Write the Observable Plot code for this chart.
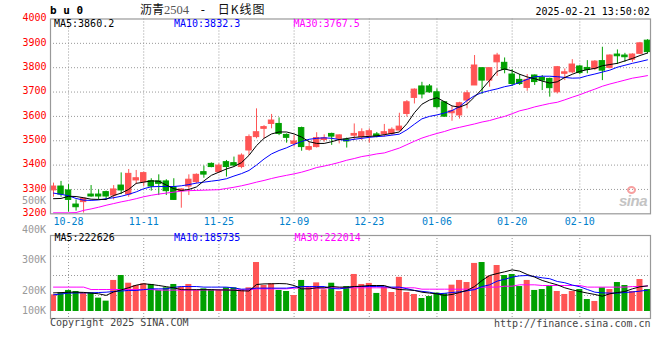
<!DOCTYPE html>
<html><head><meta charset="utf-8">
<script src="https://cdn.jsdelivr.net/npm/d3@7"></script>
<script src="https://cdn.jsdelivr.net/npm/@observablehq/plot@0.6"></script>
<style>
body{margin:0;background:#fff;}
#wrap{position:relative;width:660px;height:360px;overflow:hidden;font-family:"DejaVu Sans Mono",monospace;font-size:10px;}
.t{position:absolute;white-space:nowrap;line-height:1;}
.plot{position:absolute;left:0;}
</style></head><body><div id="wrap"></div>
<script>
const dates = ["2024-10-24","2024-10-25","2024-10-28","2024-10-29","2024-10-30","2024-10-31","2024-11-01","2024-11-04","2024-11-05","2024-11-06",
"2024-11-07","2024-11-08","2024-11-11","2024-11-12","2024-11-13","2024-11-14","2024-11-15","2024-11-18","2024-11-19","2024-11-20",
"2024-11-21","2024-11-22","2024-11-25","2024-11-26","2024-11-27","2024-11-28","2024-11-29","2024-12-02","2024-12-03","2024-12-04",
"2024-12-05","2024-12-06","2024-12-09","2024-12-10","2024-12-11","2024-12-12","2024-12-13","2024-12-16","2024-12-17","2024-12-18",
"2024-12-19","2024-12-20","2024-12-23","2024-12-24","2024-12-25","2024-12-26","2024-12-27","2024-12-30","2024-12-31","2025-01-02",
"2025-01-03","2025-01-06","2025-01-07","2025-01-08","2025-01-09","2025-01-10","2025-01-13","2025-01-14","2025-01-15","2025-01-16",
"2025-01-17","2025-01-20","2025-01-21","2025-01-22","2025-01-23","2025-01-24","2025-01-27","2025-02-05","2025-02-06","2025-02-07",
"2025-02-10","2025-02-11","2025-02-12","2025-02-13","2025-02-14","2025-02-17","2025-02-18","2025-02-19","2025-02-20","2025-02-21"];

const open = [3296,3312,3296,3238,3248,3279,3279,3289,3275,3316,
3279,3337,3330,3334,3333,3333,3309,3293,3312,3330,
3371,3405,3371,3412,3408,3392,3460,3515,3549,3569,
3569,3524,3487,3552,3463,3474,3503,3528,3508,3504,
3521,3515,3521,3526,3526,3528,3542,3610,3676,3723,
3723,3699,3658,3613,3604,3665,3727,3798,3747,3822,
3820,3772,3750,3717,3768,3758,3754,3699,3775,3781,
3805,3799,3795,3827,3799,3854,3850,3833,3857,3911];
const high = [3326,3333,3320,3257,3265,3316,3298,3293,3316,3368,
3382,3378,3371,3344,3360,3340,3344,3303,3360,3364,
3396,3409,3405,3419,3433,3446,3524,3631,3562,3608,
3594,3528,3521,3556,3494,3533,3524,3531,3524,3511,
3569,3549,3549,3534,3567,3553,3613,3665,3713,3740,
3731,3713,3661,3640,3658,3706,3850,3798,3798,3859,
3840,3792,3772,3772,3770,3768,3757,3805,3795,3833,
3809,3829,3829,3884,3853,3873,3859,3857,3904,3915];
const low = [3268,3268,3207,3211,3203,3268,3257,3257,3257,3279,
3268,3320,3312,3293,3275,3275,3255,3223,3275,3323,
3346,3389,3367,3351,3394,3385,3439,3508,3508,3549,
3521,3490,3474,3457,3457,3470,3494,3481,3487,3470,
3501,3501,3490,3512,3515,3521,3539,3597,3651,3672,
3695,3631,3597,3580,3589,3631,3727,3690,3720,3764,
3775,3723,3727,3703,3727,3706,3679,3692,3747,3775,
3771,3775,3788,3747,3795,3813,3822,3822,3854,3857];
const close = [3312,3279,3257,3227,3262,3271,3271,3271,3300,3296,
3364,3346,3367,3312,3323,3293,3257,3300,3340,3360,
3361,3392,3398,3392,3398,3439,3515,3535,3556,3583,
3528,3512,3497,3474,3474,3511,3510,3517,3522,3497,
3528,3535,3539,3517,3535,3545,3558,3658,3710,3690,
3699,3638,3599,3621,3654,3695,3809,3747,3798,3850,
3791,3733,3733,3750,3741,3747,3716,3802,3781,3813,
3778,3791,3825,3788,3850,3847,3843,3854,3900,3864];

const ma5 = [3262,3263,3272,3271,3266,3260,3259,3259,3275,3285,
3300,3325,3330,3335,3334,3318,3303,3296,3300,3310,
3335,3358,3371,3384,3394,3410,3440,3480,3510,3528,
3536,3536,3528,3515,3496,3489,3489,3496,3505,3509,
3514,3516,3518,3520,3525,3530,3536,3570,3615,3650,
3667,3677,3660,3643,3638,3650,3680,3712,3748,3785,
3795,3787,3773,3762,3755,3745,3737,3742,3760,3773,
3785,3792,3797,3808,3813,3818,3828,3838,3850,3860.2];
const ma10 = [3285,3280,3274,3263,3256,3255,3257,3262,3266,3272,
3280,3290,3303,3311,3312,3312,3312,3315,3320,3326,
3330,3334,3338,3344,3355,3365,3378,3400,3425,3446,
3460,3471,3485,3497,3506,3510,3512,3510,3505,3501,
3506,3510,3514,3517,3519,3523,3527,3545,3568,3590,
3600,3606,3614,3624,3640,3665,3685,3698,3706,3713,
3722,3728,3740,3752,3763,3765,3765,3763,3760,3757,
3758,3767,3774,3782,3790,3802,3810,3818,3825,3832.3];
const ma30 = [3204,3204,3204,3205,3214,3220,3227,3235,3242,3249,
3255,3262,3270,3276,3281,3285,3289,3293,3295,3296,
3297,3298,3299,3304,3309,3315,3322,3330,3337,3345,
3352,3358,3364,3371,3380,3390,3396,3403,3411,3420,
3427,3435,3440,3446,3450,3460,3470,3484,3498,3511,
3521,3530,3538,3548,3555,3562,3569,3577,3583,3592,
3600,3611,3623,3630,3639,3646,3653,3658,3668,3679,
3689,3701,3712,3724,3733,3741,3749,3757,3762,3767.5];

const volume = [145000,162000,183000,174000,160000,162000,116000,90000,270000,313000,
246000,226000,241000,235000,183000,206000,235000,212000,235000,183000,
197000,189000,183000,206000,206000,189000,206000,426000,226000,241000,
183000,174000,139000,270000,212000,249000,189000,246000,174000,217000,
322000,235000,244000,157000,212000,165000,297000,165000,148000,113000,
130000,160000,154000,229000,270000,252000,418000,426000,307000,400000,
313000,322000,217000,270000,183000,191000,217000,174000,148000,174000,
191000,104000,87000,206000,191000,252000,226000,174000,278000,191000];
const vma5 = [162000,164000,168000,168000,166000,160000,154000,140000,170000,188000,
207000,229000,241000,235000,226000,216000,206000,190000,189000,190000,
190000,190000,188000,187000,185000,180000,178000,235000,240000,241000,
243000,241000,226000,197000,197000,206000,206000,217000,212000,212000,
217000,220000,226000,226000,226000,203000,191000,188000,183000,168000,
160000,154000,140000,148000,165000,183000,217000,270000,313000,330000,
345000,362000,351000,322000,299000,270000,250000,232000,206000,188000,
174000,160000,148000,133000,154000,165000,174000,197000,215000,222626];
const vma10 = [145000,152000,160000,161000,162000,162000,165000,168000,174000,178000,
183000,183000,190000,197000,197000,197000,210000,217000,217000,217000,
212000,212000,212000,212000,205000,194000,196000,203000,203000,203000,
203000,203000,210000,217000,217000,217000,217000,200000,197000,205000,
217000,217000,217000,217000,215000,212000,212000,198000,183000,175000,
168000,154000,158000,165000,171000,180000,190000,217000,232000,264000,
280000,299000,310000,313000,304000,293000,285000,261000,250000,230000,
215000,191000,168000,162000,160000,160000,165000,170000,177000,185735];
const vma30 = [212000,212000,212000,212000,212000,191000,191000,191000,191000,191000,
191000,191000,191000,191000,186000,186000,186000,186000,186000,186000,
187000,187000,187000,187000,187000,187000,187000,197000,197000,197000,
197000,197000,203000,203000,203000,203000,203000,206000,206000,206000,
206000,206000,206000,206000,206000,206000,206000,206000,206000,194000,
194000,194000,194000,194000,194000,194000,194000,212000,212000,212000,
220000,220000,232000,232000,232000,226000,226000,226000,226000,226000,
226000,212000,212000,212000,212000,212000,212000,217000,217000,222014];

const tickDates = ["2024-10-28","2024-11-11","2024-11-25","2024-12-09","2024-12-23","2025-01-06","2025-01-20","2025-02-10"];
const tickLabels = ["10-28","11-11","11-25","12-09","12-23","01-06","01-20","02-10"];
const priceTicks = [3200,3300,3400,3500,3600,3700,3800,3900,4000];
const volAxisLabels = ["400K","300K","200K","100K"];
const strayLabel = "500K";
const symbol = "b u 0";
const titleName = "沥青", titleCode = "2504", titleKind = "日K线图";
const stamp = "2025-02-21 13:50:02";
const footLeft = "Copyright 2025 SINA.COM", footRight = "http://finance.sina.com.cn";

const UP = "#ff5555", DOWN = "#00a000";
const MONO = "DejaVu Sans Mono";
const rows = dates.map((d, i) => ({
  i, date: d, open: open[i], high: high[i], low: low[i], close: close[i],
  ma5: ma5[i], ma10: ma10[i], ma30: ma30[i],
  vol: volume[i], vma5: vma5[i], vma10: vma10[i], vma30: vma30[i],
  col: close[i] >= open[i] ? UP : DOWN
}));
const tickIdx = tickDates.map(d => dates.indexOf(d));
const xDom = [-0.4, dates.length - 1 + 0.4];
const grid = {stroke: "#999", strokeOpacity: 1, strokeDasharray: "1,2"};
const half = 0.36;
const LW = 1;

const wrap = document.getElementById("wrap");

const main = Plot.plot({
  width: 660, height: 232, marginLeft: 50, marginRight: 10, marginTop: 18.5, marginBottom: 18.7,
  style: {fontFamily: MONO, fontSize: "10px", background: "transparent", overflow: "visible"},
  x: {type: "linear", domain: xDom},
  y: {domain: [3200, 4000]},
  color: {type: "identity"},
  marks: [
    Plot.gridY(priceTicks.slice(1, -1), grid),
    Plot.gridX(tickIdx, grid),
    Plot.ruleX(rows, {x: "i", y1: "low", y2: "high", stroke: "col", strokeWidth: 1}),
    Plot.rect(rows, {x1: d => d.i - half, x2: d => d.i + half, y1: "open", y2: "close", fill: "col", stroke: "col", strokeWidth: 1}),
    Plot.line(rows, {x: "i", y: "ma30", stroke: "#ff00ff", strokeWidth: LW}),
    Plot.line(rows, {x: "i", y: "ma10", stroke: "#0000ff", strokeWidth: LW}),
    Plot.line(rows, {x: "i", y: "ma5", stroke: "#000000", strokeWidth: LW}),
    Plot.frame({stroke: "#999", strokeWidth: 1.2}),
    Plot.axisY(priceTicks, {anchor: "left", tickSize: 0, tickPadding: 4, fill: "#ff0000", label: null, dy: -1,
      tickFormat: d => String(d)}),
    Plot.axisX(tickIdx, {anchor: "bottom", tickSize: 0, tickPadding: 4, fill: "#0080cc", label: null,
      tickFormat: d => tickLabels[tickIdx.indexOf(d)]})
  ]
});
main.classList.add("plot"); main.style.top = "0px";
wrap.appendChild(main);

const vol = Plot.plot({
  width: 660, height: 100, marginLeft: 50, marginRight: 10, marginTop: 10, marginBottom: 7,
  style: {fontFamily: MONO, fontSize: "10px", background: "transparent", overflow: "visible"},
  x: {type: "linear", domain: xDom, axis: null},
  y: {domain: [-61000, 661000], axis: null},
  color: {type: "identity"},
  marks: [
    Plot.gridY([139000, 313000, 481000], grid),
    Plot.gridX(tickIdx, grid),
    Plot.rect(rows, {x1: d => d.i - 0.4, x2: d => d.i + 0.4, y1: 0, y2: "vol", fill: "col"}),
    Plot.line(rows, {x: "i", y: "vma30", stroke: "#ff00ff", strokeWidth: LW}),
    Plot.line(rows, {x: "i", y: "vma10", stroke: "#0000ff", strokeWidth: LW}),
    Plot.line(rows, {x: "i", y: "vma5", stroke: "#000000", strokeWidth: LW}),
    Plot.frame({stroke: "#999", strokeWidth: 1.2})
  ]
});
vol.classList.add("plot"); vol.style.top = "225px";
wrap.appendChild(vol);

function label(text, css) {
  const el = document.createElement("div");
  el.className = "t";
  el.textContent = text;
  Object.assign(el.style, css);
  wrap.appendChild(el);
  return el;
}
const last = a => a[a.length - 1];
// legends
label(`MA5:${last(ma5).toFixed(1)}`, {left: "54px", top: "18.7px", color: "#000"});
label(`MA10:${last(ma10).toFixed(1)}`, {left: "174px", top: "18.7px", color: "#0000ff"});
label(`MA30:${last(ma30).toFixed(1)}`, {left: "293.5px", top: "18.7px", color: "#ff00ff"});
label(`MA5:${last(vma5)}`, {left: "54.5px", top: "233.2px", color: "#000"});
label(`MA10:${last(vma10)}`, {left: "174px", top: "233.2px", color: "#0000ff"});
label(`MA30:${last(vma30)}`, {left: "294.5px", top: "233.2px", color: "#ff00ff"});
// volume axis labels (sina places them off-grid)
const volLabelTops = [224.7, 255.2, 285.9, 305.9];
volAxisLabels.forEach((t, k) => label(t, {right: "614px", top: volLabelTops[k] + "px", color: "#999", textAlign: "right"}));
label(strayLabel, {right: "614px", top: "195.5px", color: "#999"});
// header
label(symbol, {left: "50px", top: "5px", fontWeight: "bold", fontSize: "11px", color: "#000"});
const title = label("", {left: "140px", top: "2.5px", fontFamily: "'Noto Sans CJK SC'", fontSize: "12px", color: "#111"});
const s1 = document.createElement("span"); s1.textContent = titleName; title.appendChild(s1);
const s2 = document.createElement("span"); s2.textContent = titleCode;
Object.assign(s2.style, {fontFamily: "'Liberation Serif'", color: "#555", fontSize: "12.5px"}); title.appendChild(s2);
const s3 = document.createElement("span"); s3.textContent = " - ";
Object.assign(s3.style, {marginLeft: "3px", whiteSpace: "pre", fontFamily: "'DejaVu Sans Mono'"}); title.appendChild(s3);
const s4 = document.createElement("span"); s4.textContent = titleKind;
Object.assign(s4.style, {marginLeft: "4px", letterSpacing: "1px"}); title.appendChild(s4);
label(stamp, {left: "535.5px", top: "7.2px", color: "#000"});
// footer
label(footLeft, {left: "50px", top: "318.3px", color: "#444"});
label(footRight, {left: "494px", top: "318.5px", color: "#444"});
// watermark
const eye = document.createElement("div");
Object.assign(eye.style, {position: "absolute", left: "627px", top: "186px", width: "9px", height: "8px", borderRadius: "50%", border: "2px solid #f7a0a0", boxSizing: "border-box"});
wrap.appendChild(eye);
label("sina", {left: "619px", top: "193px", fontFamily: "'Liberation Sans'", fontStyle: "italic", fontWeight: "bold", fontSize: "15px", color: "#c4c4c4", letterSpacing: "-0.5px"});
</script>
</body></html>
